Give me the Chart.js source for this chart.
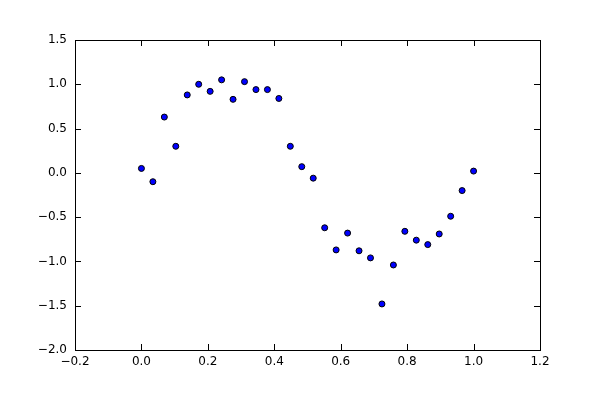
<!DOCTYPE html>
<html>
<head>
<meta charset="utf-8">
<script src="https://cdn.jsdelivr.net/npm/chart.js@4/dist/chart.umd.min.js"></script>
<style>
html,body{margin:0;padding:0;background:#fff;}
#wrap{width:600px;height:400px;}
</style>
</head>
<body>
<div id="wrap"><canvas id="c" width="600" height="400"></canvas></div>
<script>
// Data (x = i/29, i = 0..29)
const xValues = [0,1,2,3,4,5,6,7,8,9,10,11,12,13,14,15,16,17,18,19,20,21,22,23,24,25,26,27,28,29].map(i => i / 29);
const yValues = [0.05, -0.10, 0.63, 0.30, 0.88, 1.00, 0.92, 1.05, 0.83, 1.03,
                 0.94, 0.94, 0.84, 0.30, 0.07, -0.06, -0.62, -0.87, -0.68, -0.88,
                 -0.96, -1.48, -1.04, -0.66, -0.76, -0.81, -0.69, -0.49, -0.20, 0.02];
const xTicks = [-0.2, 0.0, 0.2, 0.4, 0.6, 0.8, 1.0, 1.2];
const yTicks = [-2.0, -1.5, -1.0, -0.5, 0.0, 0.5, 1.0, 1.5];

const points = xValues.map((x, i) => ({x: x, y: yValues[i]}));
const fmt = v => v.toFixed(1).replace('-', '\u2212');

const frame = {
  id: 'frame',
  afterDraw(chart) {
    const ctx = chart.ctx, a = chart.chartArea;
    const xs = chart.scales.x, ys = chart.scales.y;
    const L = 6;
    ctx.save();
    ctx.strokeStyle = '#000';
    ctx.lineWidth = 1;
    ctx.beginPath();
    xTicks.forEach(v => {
      const px = Math.round(xs.getPixelForValue(v)) + 0.5;
      ctx.moveTo(px, a.bottom); ctx.lineTo(px, a.bottom - L);
      ctx.moveTo(px, a.top); ctx.lineTo(px, a.top + L);
    });
    yTicks.forEach(v => {
      const py = Math.round(ys.getPixelForValue(v)) + 0.5;
      ctx.moveTo(a.left, py); ctx.lineTo(a.left + L, py);
      ctx.moveTo(a.right, py); ctx.lineTo(a.right - L, py);
    });
    ctx.stroke();
    ctx.strokeRect(Math.round(a.left) + 0.5, Math.round(a.top) + 0.5,
                   Math.round(a.right - a.left), Math.round(a.bottom - a.top));
    ctx.restore();
  }
};

new Chart(document.getElementById('c'), {
  type: 'scatter',
  data: {
    datasets: [{
      data: points,
      backgroundColor: '#0000ff',
      borderColor: '#000000',
      borderWidth: 1,
      pointRadius: 3,
      pointHoverRadius: 3
    }]
  },
  options: {
    responsive: false,
    animation: false,
    events: [],
    layout: {padding: {top: 40, right: 60, left: 0, bottom: 0}},
    plugins: {legend: {display: false}, tooltip: {enabled: false}},
    scales: {
      x: {
        type: 'linear', min: -0.2, max: 1.2,
        afterFit(s) { s.height = 50; },
        afterBuildTicks(s) { s.ticks = xTicks.map(v => ({value: v})); },
        grid: {display: false, drawTicks: false},
        border: {display: false},
        ticks: {
          color: '#000', padding: 5, maxRotation: 0, autoSkip: false,
          font: {family: 'DejaVu Sans', size: 12},
          callback: v => fmt(v)
        }
      },
      y: {
        type: 'linear', min: -2.0, max: 1.5,
        afterFit(s) { s.width = 75; },
        afterBuildTicks(s) { s.ticks = yTicks.map(v => ({value: v})); },
        grid: {display: false, drawTicks: false},
        border: {display: false},
        ticks: {
          color: '#000', padding: 8, autoSkip: false,
          font: {family: 'DejaVu Sans', size: 12},
          callback: v => fmt(v)
        }
      }
    }
  },
  plugins: [frame]
});
</script>
</body>
</html>
